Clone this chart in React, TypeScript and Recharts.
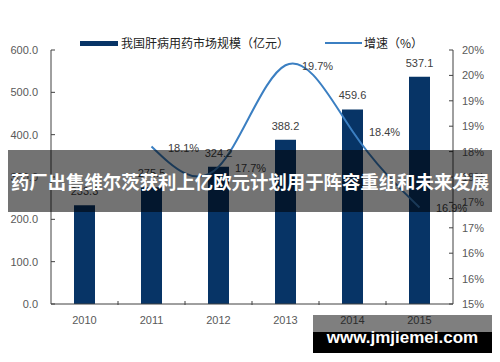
import { ComposedChart, Bar, Line, XAxis, YAxis, LabelList } from 'recharts';

const years = ['2010', '2011', '2012', '2013', '2014', '2015'];
const marketSize = [233.3, 275.5, 324.2, 388.2, 459.6, 537.1];
const growthRate = [null, 18.1, 17.7, 19.7, 18.4, 16.9];
const leftTicks = [0, 100, 200, 300, 400, 500, 600];
const rightTicks = [15, 15.5, 16, 16.5, 17, 17.5, 18, 18.5, 19, 19.5, 20];

const data = years.map((year, i) => ({ year, size: marketSize[i], growth: growthRate[i] }));

const NAVY = '#073466';
const BLUE = '#3b7fc2';
const AXIS = '#404040';
const TICK = '#595959';
const LABEL = '#404040';
const FONT = '"Liberation Sans", Arial, sans-serif';
const CJK = '"Noto Sans CJK SC", sans-serif';
const HALF_BAND = 33.5;

function YearTick({ x, y, payload, index }: any) {
  return (
    <g>
      {index > 0 && (
        <line x1={x - HALF_BAND} x2={x - HALF_BAND} y1={y - 3} y2={y + 1} stroke={AXIS} />
      )}
      <text x={x} y={y + 20} textAnchor="middle" fontSize={11} fill={TICK} fontFamily={FONT}>
        {payload.value}
      </text>
    </g>
  );
}

function GrowthLabel({ x, y, value }: any) {
  if (value == null) return null;
  return (
    <text x={x + 32} y={y + 5} textAnchor="middle" fontSize={11} fill={LABEL} fontFamily={FONT}>
      {Number(value).toFixed(1)}%
    </text>
  );
}

export default function App() {
  return (
    <div style={{ position: 'relative', width: 500, height: 362, margin: -8, background: '#fff', overflow: 'hidden' }}>
      <ComposedChart width={500} height={362} data={data} margin={{ top: 50, right: 0, bottom: 0, left: 0 }}>
        <XAxis
          dataKey="year"
          height={58}
          stroke={AXIS}
          tickLine={false}
          tickSize={0}
          tickMargin={0}
          interval={0}
          tick={<YearTick />}
        />
        <YAxis
          yAxisId="left"
          width={51}
          domain={[0, 600]}
          ticks={leftTicks}
          interval={0}
          stroke={AXIS}
          tickSize={-4}
          tickMargin={17}
          tick={{ fontSize: 11, fill: TICK, fontFamily: FONT }}
          tickFormatter={(v: number) => v.toFixed(1)}
        />
        <YAxis
          yAxisId="right"
          orientation="right"
          width={47}
          domain={[15, 20]}
          ticks={rightTicks}
          interval={0}
          stroke={AXIS}
          tickSize={-4}
          tickMargin={13}
          tick={{ fontSize: 11, fill: TICK, fontFamily: FONT }}
          tickFormatter={(v: number) => `${Math.round(v)}%`}
        />
        <Bar yAxisId="left" dataKey="size" fill={NAVY} barSize={21} isAnimationActive={false}>
          <LabelList
            dataKey="size"
            position="top"
            offset={10}
            fill={LABEL}
            fontSize={11}
            fontFamily={FONT}
            formatter={(v: any) => Number(v).toFixed(1)}
          />
        </Bar>
        <Line
          yAxisId="right"
          type="natural"
          dataKey="growth"
          stroke={BLUE}
          strokeWidth={2}
          dot={false}
          activeDot={false}
          isAnimationActive={false}
        >
          <LabelList dataKey="growth" content={<GrowthLabel />} />
        </Line>
      </ComposedChart>

      {/* legend */}
      <div style={{ position: 'absolute', left: 80, top: 41, width: 38, height: 5, background: NAVY }} />
      <div style={{ position: 'absolute', left: 121, top: 34, fontFamily: CJK, fontSize: 12, lineHeight: '18px', color: '#222', whiteSpace: 'nowrap' }}>
        我国肝病用药市场规模（亿元）
      </div>
      <div style={{ position: 'absolute', left: 325, top: 42, width: 37, height: 2, background: BLUE }} />
      <div style={{ position: 'absolute', left: 364, top: 34, fontFamily: CJK, fontSize: 12, lineHeight: '18px', color: '#222', whiteSpace: 'nowrap' }}>
        增速（%）
      </div>

      {/* banner */}
      <div
        style={{
          position: 'absolute', left: 0, top: 150, width: 500, height: 62,
          background: 'rgba(0,0,0,0.55)', color: '#fff', fontFamily: CJK, fontWeight: 'bold',
          fontSize: 18.4, display: 'flex', alignItems: 'center', justifyContent: 'center', whiteSpace: 'nowrap',
        }}
      >
        药厂出售维尔茨获利上亿欧元计划用于阵容重组和未来发展
      </div>

      {/* watermark */}
      <div
        style={{
          position: 'absolute', left: 313, top: 315, width: 179, height: 38,
          background: 'linear-gradient(to bottom, rgba(0,0,0,0.5) 0px, rgba(0,0,0,0.5) 17px, #000 17px, #000 100%)',
          color: '#fff', fontFamily: FONT, fontWeight: 'bold', fontSize: 17,
          display: 'flex', alignItems: 'center', justifyContent: 'center', paddingTop: 8, boxSizing: 'border-box',
        }}
      >
        www.jmjiemei.com
      </div>
    </div>
  );
}
